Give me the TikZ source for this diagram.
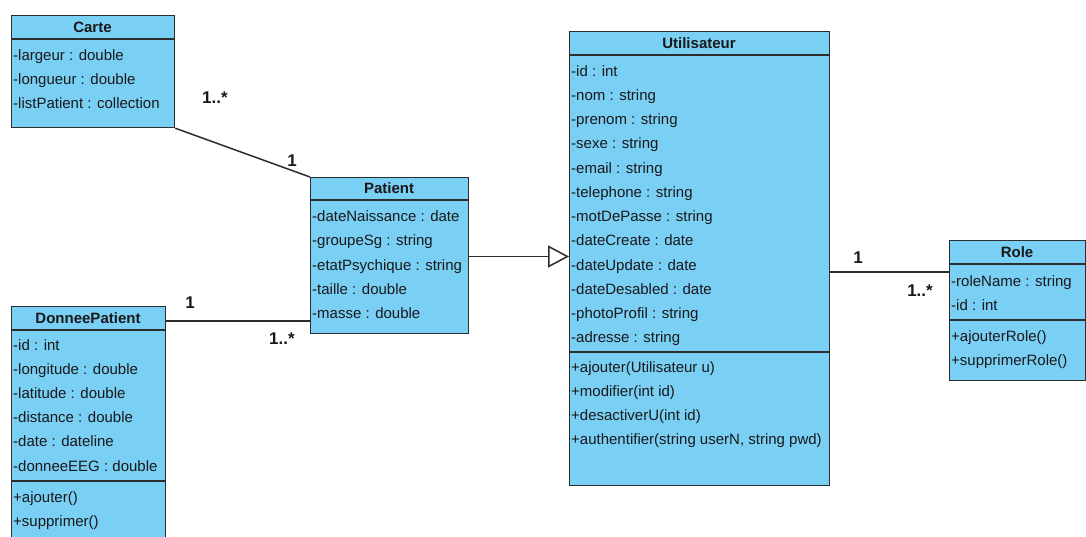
\documentclass[tikz,border=0pt]{standalone}
\usepackage{fontspec}
\setmainfont{Liberation Sans}
\usetikzlibrary{arrows.meta}
\definecolor{umlfill}{RGB}{122,207,245}
\definecolor{umlline}{RGB}{45,45,45}
\definecolor{umltext}{RGB}{25,25,25}
\tikzset{
  classbox/.style={draw=umlline, fill=umlfill, line width=1.2pt, inner sep=0pt, anchor=north west},
  divider/.style={draw=umlline, line width=1.2pt},
  rowtext/.style={anchor=west, inner sep=0pt, text height=10.5pt, text depth=0.5pt, font=\fontsize{15}{15}\selectfont, text=umltext},
  headtext/.style={anchor=center, inner sep=0pt, text height=10.5pt, text depth=0.5pt, font=\fontsize{15}{15}\selectfont\bfseries, text=umltext},
  multtext/.style={anchor=center, inner sep=0pt, text height=12pt, text depth=0pt, font=\fontsize{17}{17}\selectfont\bfseries, text=umltext},
  assoc/.style={draw=umlline, line width=1.5pt},
  generalization/.style={draw=umlline, line width=1.5pt, -{Triangle[open, length=21pt, width=22pt, line width=1.5pt]}}
}
\newcommand{\umlrow}[3]{\node[rowtext] at (#1,#2) {#3};}
\begin{document}
\begin{tikzpicture}[x=1pt,y=-1pt]
\useasboundingbox (0,0) rectangle (1086,536);
\clip (0,0) rectangle (1086,536);
\fill[white] (0,0) rectangle (1086,536);

% Carte
\node[classbox, minimum width=163pt, minimum height=112pt] (carte) at (11,15) {};
\node[headtext] (carteh) at (92.5,27) {Carte};
\draw[divider] (carte.west |- 0,39) -- (carte.east |- 0,39);
\umlrow{13}{55}{-largeur : double}
\umlrow{13}{79}{-longueur : double}
\umlrow{13}{103}{-listPatient : collection}

% Patient
\node[classbox, minimum width=158pt, minimum height=156pt] (patient) at (310,177) {};
\node[headtext] (patienth) at (389,188.5) {Patient};
\draw[divider] (patient.west |- 0,200) -- (patient.east |- 0,200);
\umlrow{312}{216}{-dateNaissance : date}
\umlrow{312}{240}{-groupeSg : string}
\umlrow{312}{265}{-etatPsychique : string}
\umlrow{312}{289}{-taille : double}
\umlrow{312}{313}{-masse : double}

% DonneePatient
\node[classbox, minimum width=154pt, minimum height=245pt] (dp) at (11,306) {};
\node[headtext] (dph) at (88,318) {DonneePatient};
\draw[divider] (dp.west |- 0,330) -- (dp.east |- 0,330);
\umlrow{13}{345}{-id : int}
\umlrow{13}{369}{-longitude : double}
\umlrow{13}{393}{-latitude : double}
\umlrow{13}{417}{-distance : double}
\umlrow{13}{441}{-date : dateline}
\umlrow{13}{466}{-donneeEEG : double}
\draw[divider] (dp.west |- 0,481) -- (dp.east |- 0,481);
\umlrow{13}{497}{+ajouter()}
\umlrow{13}{521}{+supprimer()}

% Utilisateur
\node[classbox, minimum width=260pt, minimum height=454pt] (util) at (569,31) {};
\node[headtext] (utilh) at (699,43) {Utilisateur};
\draw[divider] (util.west |- 0,55) -- (util.east |- 0,55);
\umlrow{571}{71}{-id : int}
\umlrow{571}{95}{-nom : string}
\umlrow{571}{119}{-prenom : string}
\umlrow{571}{143}{-sexe : string}
\umlrow{571}{168}{-email : string}
\umlrow{571}{192}{-telephone : string}
\umlrow{571}{216}{-motDePasse : string}
\umlrow{571}{240}{-dateCreate : date}
\umlrow{571}{265}{-dateUpdate : date}
\umlrow{571}{289}{-dateDesabled : date}
\umlrow{571}{313}{-photoProfil : string}
\umlrow{571}{337}{-adresse : string}
\draw[divider] (util.west |- 0,352) -- (util.east |- 0,352);
\umlrow{571}{367}{+ajouter(Utilisateur u)}
\umlrow{571}{391}{+modifier(int id)}
\umlrow{571}{415}{+desactiverU(int id)}
\umlrow{571}{439}{+authentifier(string userN, string pwd)}

% Role
\node[classbox, minimum width=136pt, minimum height=140pt] (role) at (949,240) {};
\node[headtext] (roleh) at (1017,252) {Role};
\draw[divider] (role.west |- 0,264) -- (role.east |- 0,264);
\umlrow{951}{281}{-roleName : string}
\umlrow{951}{305}{-id : int}
\draw[divider] (role.west |- 0,320) -- (role.east |- 0,320);
\umlrow{951}{336}{+ajouterRole()}
\umlrow{951}{360}{+supprimerRole()}

% Connectors
\draw[assoc] (carte.south east) -- (patient.north west);
\node[multtext] (m1) at (215,97) {1..*};
\node[multtext] (m2) at (292,160) {1};

\draw[assoc] (dp.east |- 0,321) -- (patient.west |- 0,321);
\node[multtext] (m3) at (190,302) {1};
\node[multtext] (m4) at (282,338) {1..*};

\draw[generalization] (patient.east |- 0,256.5) -- (util.west |- 0,256.5);

\draw[assoc] (util.east |- 0,272) -- (role.west |- 0,272);
\node[multtext] (m5) at (858,257) {1};
\node[multtext] (m6) at (920,290) {1..*};
\end{tikzpicture}
\end{document}
